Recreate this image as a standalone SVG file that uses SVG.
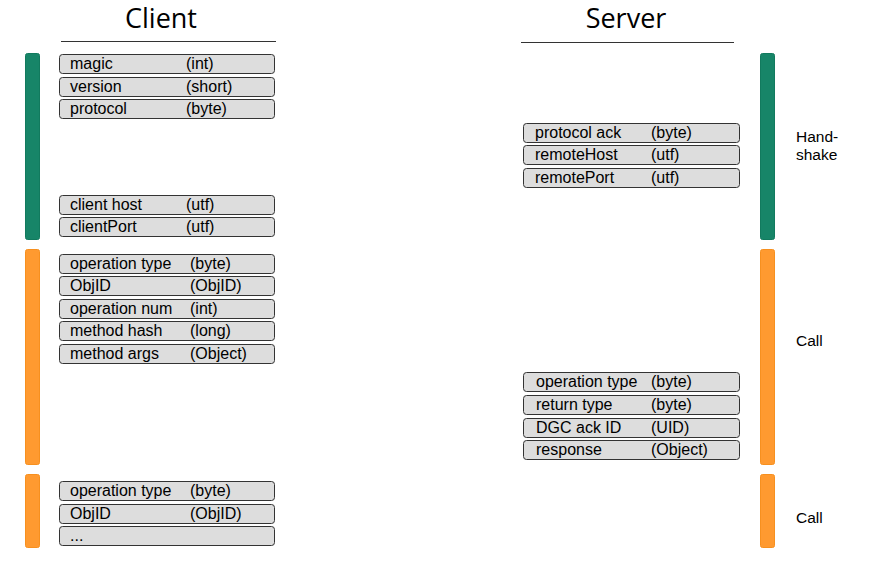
<svg xmlns="http://www.w3.org/2000/svg" width="882" height="578" viewBox="0 0 882 578">
<style>
.title{font-family:"Open Sans","DejaVu Sans",sans-serif;font-size:27px;fill:#000;text-anchor:middle}
.f{fill:#dddddd;stroke:#333;stroke-width:1}
.t{font-family:"Liberation Sans",Arial,sans-serif;font-size:16px;fill:#000}
.lab{font-family:"Liberation Sans",Arial,sans-serif;font-size:15.5px;fill:#000}
.g{fill:#178568;stroke:#127a5e;stroke-width:1}
.o{fill:#ff9a30;stroke:#f7901f;stroke-width:1}
.rule{stroke:#333;stroke-width:1}
</style>
<rect width="882" height="578" fill="#fff"/>
<g id="headers">
<text class="title" x="161" y="28">Client</text>
<line class="rule" x1="61" y1="41.5" x2="276" y2="41.5"/>
<text class="title" x="626" y="28">Server</text>
<line class="rule" x1="521" y1="42.5" x2="734" y2="42.5"/>
</g>
<g id="phase-bars">
<rect class="g" x="25.5" y="53.5" width="14" height="186" rx="2"/>
<rect class="o" x="25.5" y="249.5" width="14" height="215" rx="2"/>
<rect class="o" x="25.5" y="474.5" width="14" height="73" rx="2"/>
<rect class="g" x="760.5" y="53.5" width="14" height="186" rx="2"/>
<rect class="o" x="760.5" y="249.5" width="14" height="215" rx="2"/>
<rect class="o" x="760.5" y="474.5" width="14" height="73" rx="2"/>
<text class="lab" x="796" y="142">Hand-</text>
<text class="lab" x="796" y="160">shake</text>
<text class="lab" x="796" y="346">Call</text>
<text class="lab" x="796" y="523">Call</text>
</g>
<g id="client-handshake">
<rect class="f" x="59.5" y="54.5" width="215" height="19" rx="3"/>
<text class="t" x="70" y="69">magic</text><text class="t" x="186" y="69">(int)</text>
<rect class="f" x="59.5" y="77.5" width="215" height="19" rx="3"/>
<text class="t" x="70" y="92">version</text><text class="t" x="186" y="92">(short)</text>
<rect class="f" x="59.5" y="99.5" width="215" height="19" rx="3"/>
<text class="t" x="70" y="114">protocol</text><text class="t" x="186" y="114">(byte)</text>
<rect class="f" x="59.5" y="195.5" width="215" height="19" rx="3"/>
<text class="t" x="70" y="210">client host</text><text class="t" x="186" y="210">(utf)</text>
<rect class="f" x="59.5" y="217.5" width="215" height="19" rx="3"/>
<text class="t" x="70" y="232">clientPort</text><text class="t" x="186" y="232">(utf)</text>
</g>
<g id="server-handshake">
<rect class="f" x="523.5" y="123.5" width="216" height="19" rx="3"/>
<text class="t" x="535" y="138">protocol ack</text><text class="t" x="651" y="138">(byte)</text>
<rect class="f" x="523.5" y="145.5" width="216" height="19" rx="3"/>
<text class="t" x="535" y="160">remoteHost</text><text class="t" x="651" y="160">(utf)</text>
<rect class="f" x="523.5" y="168.5" width="216" height="19" rx="3"/>
<text class="t" x="535" y="183">remotePort</text><text class="t" x="651" y="183">(utf)</text>
</g>
<g id="client-call-1">
<rect class="f" x="59.5" y="254.5" width="215" height="19" rx="3"/>
<text class="t" x="70" y="269">operation type</text><text class="t" x="190" y="269">(byte)</text>
<rect class="f" x="59.5" y="276.5" width="215" height="19" rx="3"/>
<text class="t" x="70" y="291">ObjID</text><text class="t" x="190" y="291">(ObjID)</text>
<rect class="f" x="59.5" y="299.5" width="215" height="19" rx="3"/>
<text class="t" x="70" y="314">operation num</text><text class="t" x="190" y="314">(int)</text>
<rect class="f" x="59.5" y="321.5" width="215" height="19" rx="3"/>
<text class="t" x="70" y="336">method hash</text><text class="t" x="190" y="336">(long)</text>
<rect class="f" x="59.5" y="344.5" width="215" height="19" rx="3"/>
<text class="t" x="70" y="359">method args</text><text class="t" x="190" y="359">(Object)</text>
</g>
<g id="server-call">
<rect class="f" x="523.5" y="372.5" width="216" height="19" rx="3"/>
<text class="t" x="536" y="387">operation type</text><text class="t" x="651" y="387">(byte)</text>
<rect class="f" x="523.5" y="395.5" width="216" height="19" rx="3"/>
<text class="t" x="536" y="410">return type</text><text class="t" x="651" y="410">(byte)</text>
<rect class="f" x="523.5" y="418.5" width="216" height="19" rx="3"/>
<text class="t" x="536" y="433">DGC ack ID</text><text class="t" x="651" y="433">(UID)</text>
<rect class="f" x="523.5" y="440.5" width="216" height="19" rx="3"/>
<text class="t" x="536" y="455">response</text><text class="t" x="651" y="455">(Object)</text>
</g>
<g id="client-call-2">
<rect class="f" x="59.5" y="481.5" width="215" height="19" rx="3"/>
<text class="t" x="70" y="496">operation type</text><text class="t" x="190" y="496">(byte)</text>
<rect class="f" x="59.5" y="504.5" width="215" height="19" rx="3"/>
<text class="t" x="70" y="519">ObjID</text><text class="t" x="190" y="519">(ObjID)</text>
<rect class="f" x="59.5" y="526.5" width="215" height="19" rx="3"/>
<text class="t" x="70" y="541">...</text>
</g>
<g id="connectors"></g>
</svg>
